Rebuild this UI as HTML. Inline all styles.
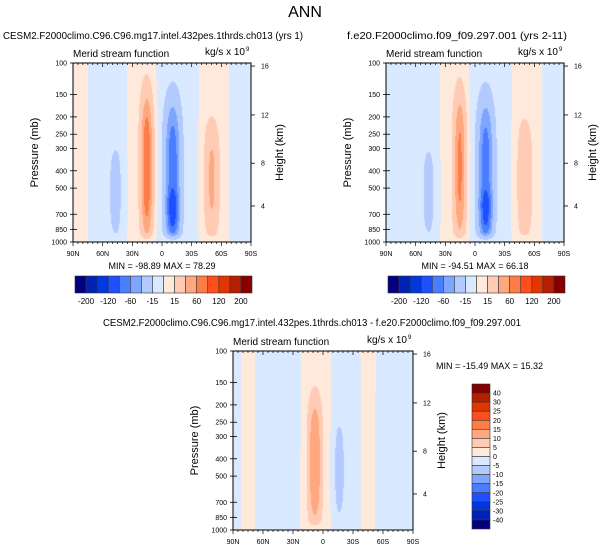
<!DOCTYPE html>
<html><head><meta charset="utf-8">
<style>
body{margin:0;background:#fff;width:611px;height:551px;overflow:hidden;font-family:"Liberation Sans",sans-serif}
#wrap{position:relative;width:611px;height:551px}
canvas{position:absolute}
svg{position:absolute;left:0;top:0}
</style></head>
<body><div id="wrap">
<canvas id="c0"></canvas>
<canvas id="c1"></canvas>
<canvas id="c2"></canvas>
<svg id="svg" width="611" height="551"></svg>
</div>
<script>
const colors=["#03007f","#0023b5","#0037e0","#1f50ff","#4a7dff","#7ea6ff","#b3caff","#d9e9ff","#fee9da","#ffcbb4","#ffa77e","#ff7c46","#ff4d1c","#e23500","#b51e00","#860000"];
const levelsMain=[-200,-160,-120,-80,-60,-40,-15,0,15,40,60,80,120,160,200];
const levelsMainLabels=["-200","-120","-60","-15","15","60","120","200"];
const levelsDiff=[-40,-30,-25,-20,-15,-10,-5,0,5,10,15,20,25,30,40];
const latLabels=["90N","60N","30N","0","30S","60S","90S"];
const pressureTicks=[100,150,200,250,300,400,500,700,850,1000];
const heightTicks=[4,8,12,16];
const heightTickPressures=[629,363,195,104];
// background zonal values every 15 deg (90N..90S)
const bgLeft=[5,0,-5,-5,3,5,-5,-5,-5,5,4,-4,-5];
const bgRight=[-2,0,-5,-5,3,5,-5,-5,-5,5,4,-4,-5];
const bgDiff=[-2,2,-2,-2,-2,2,2,-2,-2,2,-2,-2,-2];
// cells: [u(0..1 90N->90S), v(0..1 top->bottom), su, sv, amplitude]
const cellsLeft=[[0.415,0.58,0.036,0.42,72],[0.56,0.62,0.045,0.42,-70],[0.56,0.84,0.035,0.12,-30],[0.78,0.65,0.04,0.32,40],[0.24,0.72,0.035,0.25,-22]];
const cellsRight=[[0.415,0.58,0.036,0.42,60],[0.56,0.62,0.045,0.42,-68],[0.56,0.84,0.035,0.12,-28],[0.78,0.65,0.04,0.32,34],[0.24,0.72,0.035,0.25,-20]];
const cellsDiff=[[0.455,0.62,0.04,0.38,12.5],[0.59,0.66,0.025,0.24,-8],[0.33,0.35,0.03,0.3,-3]];

const svg=document.getElementById('svg');
const NS="http://www.w3.org/2000/svg";
function mk(tag,attrs,parent){const e=document.createElementNS(NS,tag);for(const k in attrs)e.setAttribute(k,attrs[k]);(parent||svg).appendChild(e);return e;}
function txt(s,x,y,size,anchor,name,extra){const t=mk('text',Object.assign({x:x,y:y,'font-size':size,'text-anchor':anchor||'start','font-family':'Liberation Sans, sans-serif'},extra||{}));t.textContent=s;


return t;}

function field(u,v,bg,cells){
  const p=u*12,i=Math.min(11,Math.floor(p)),f=p-i;
  let val=bg[i]*(1-f)+bg[i+1]*f;
  const taper=Math.min(1,Math.max(0,(1-v)/0.05));
  for(const c of cells){const du=(u-c[0])/c[2],dv=(v-c[1])/c[3];val+=c[4]*Math.exp(-du*du-Math.pow(dv*dv,1.6))*taper;}
  return val;
}
function colorFor(val,levels){let k=0;while(k<levels.length&&val>=levels[k])k++;return colors[k];}

function panel(id,x0,y0,w,h,bg,cells,levels,prefix){
  const cv=document.getElementById(id);cv.width=w;cv.height=h;cv.style.left=x0+'px';cv.style.top=y0+'px';
  const ctx=cv.getContext('2d');
  for(let py=0;py<h;py++)for(let px=0;px<w;px++){ctx.fillStyle=colorFor(field((px+.5)/w,(py+.5)/h,bg,cells),levels);ctx.fillRect(px,py,1,1);}
  const g=mk('g',{});
  
  
  mk('rect',{x:x0,y:y0,width:w,height:h,fill:'none',stroke:'#000','stroke-width':1},g);
  const yP=p=>y0+h*(Math.log10(p)-2);
  pressureTicks.forEach(p=>{const y=yP(p);mk('line',{x1:x0,x2:x0+4,y1:y,y2:y,stroke:'#000','stroke-width':0.8},g);mk('line',{x1:x0-3,x2:x0,y1:y,y2:y,stroke:'#000','stroke-width':0.8},g);
    txt(String(p),x0-6,y+2.5,7,'end',prefix+'-pressure-tick');});
  heightTicks.forEach((z,k)=>{const y=yP(heightTickPressures[k]);mk('line',{x1:x0+w,x2:x0+w+4,y1:y,y2:y,stroke:'#000','stroke-width':0.8},g);
    txt(String(z),x0+w+10,y+2.5,7,'start',prefix+'-height-tick');});
  for(let k=0;k<=36;k++){const x=x0+w*k/36;const L=k%6==0?4:2;mk('line',{x1:x,x2:x,y1:y0+h,y2:y0+h+L,stroke:'#000','stroke-width':0.7},g);mk('line',{x1:x,x2:x,y1:y0,y2:y0+L,stroke:'#000','stroke-width':0.7},g);}
  latLabels.forEach((s,k)=>txt(s,x0+w*k/6,y0+h+14,7,'middle',prefix+'-lat-tick'));
  txt("Pressure (mb)",0,0,11,'middle',prefix+'-y-axis-title',{transform:`translate(${x0-35},${y0+h/2}) rotate(-90)`});
  txt("Height (km)",0,0,11,'middle',prefix+'-right-axis-title',{transform:`translate(${x0+w+32},${y0+h/2}) rotate(-90)`});
  txt("Merid stream function",x0,y0-6,10,'start',prefix+'-subtitle');
  txt("kg/s x 10",x0+w-6,y0-8,10,'end',prefix+'-units');
  txt("9",x0+w-5,y0-12,6,'start',prefix+'-units-exp');
}
function hbar(x0,y0,w,h,prefix){
  const bw=w/16;
  colors.forEach((c,k)=>{const r=mk('rect',{x:x0+k*bw,y:y0,width:bw,height:h,fill:c,stroke:'#333','stroke-width':0.6});
    
    });
  levelsMainLabels.forEach((s,k)=>txt(s,x0+(2*k+1)*bw,y0+h+11,8,'middle',prefix+'-colorbar-label'));
}
panel('c0',73,63,178,179,bgLeft,cellsLeft,levelsMain,'left');
panel('c1',386,63,178,179,bgRight,cellsRight,levelsMain,'right');
panel('c2',233,351,180,179,bgDiff,cellsDiff,levelsDiff,'diff');
hbar(75,276,177,17,'left');
hbar(388,276,177,17,'right');
{const x0=472,y0=384,w=18,h=145,bh=h/16;
 colors.slice().reverse().forEach((c,k)=>{const r=mk('rect',{x:x0,y:y0+k*bh,width:w,height:bh,fill:c,stroke:'#333','stroke-width':0.6});
   
   });
 levelsDiff.slice().reverse().forEach((v,k)=>txt(String(v),x0+w+3,y0+(k+1)*bh+2.5,7,'start','diff-colorbar-label'));}
txt("ANN",305,17,16,'middle','figure-title');
txt("CESM2.F2000climo.C96.C96.mg17.intel.432pes.1thrds.ch013 (yrs 1)",3,39,10.5,'start','left-panel-title',{textLength:300,lengthAdjust:'spacingAndGlyphs'});
txt("f.e20.F2000climo.f09_f09.297.001 (yrs 2-11)",347,39,10.5,'start','right-panel-title',{textLength:220,lengthAdjust:'spacingAndGlyphs'});
txt("CESM2.F2000climo.C96.C96.mg17.intel.432pes.1thrds.ch013 - f.e20.F2000climo.f09_f09.297.001",103,326,10.5,'start','diff-panel-title',{textLength:418,lengthAdjust:'spacingAndGlyphs'});
txt("MIN = -98.89  MAX =  78.29",162,269,9,'middle','left-minmax',{'xml:space':'preserve'});
txt("MIN = -94.51  MAX =  66.18",475,269,9,'middle','right-minmax',{'xml:space':'preserve'});
txt("MIN = -15.49  MAX =  15.32",436,369,9,'start','diff-minmax',{'xml:space':'preserve'});
</script></body></html>
